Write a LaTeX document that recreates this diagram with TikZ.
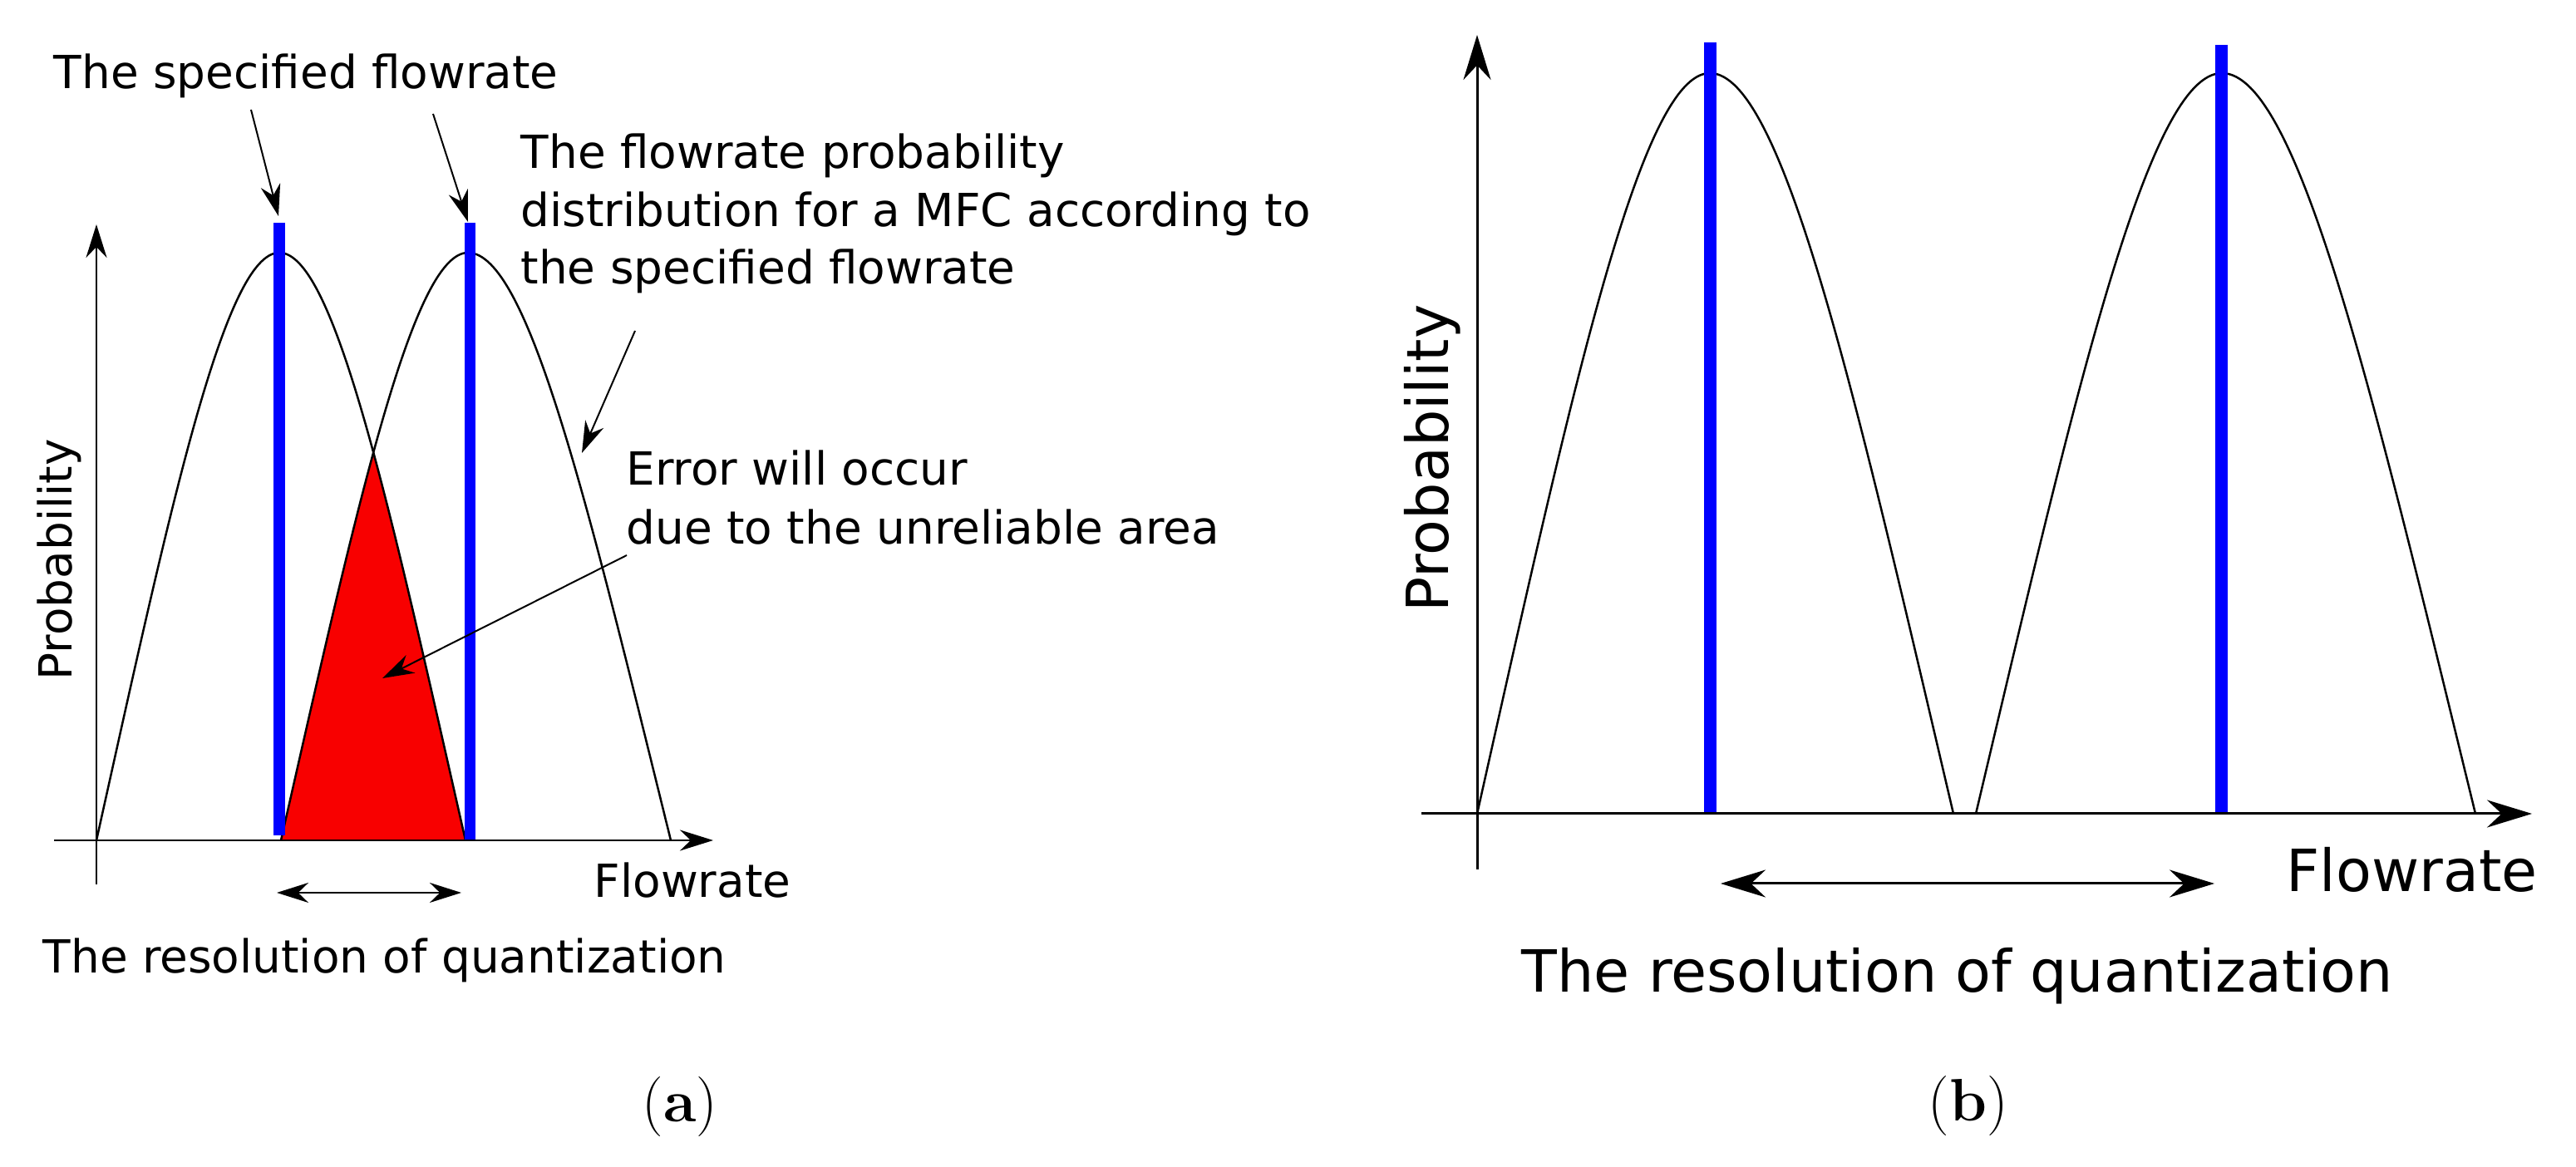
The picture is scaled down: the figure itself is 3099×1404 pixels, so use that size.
\documentclass[tikz,border=0pt]{standalone}
\usepackage{fontspec}
\newfontfamily\dejavu{DejaVu Sans}
\usetikzlibrary{arrows.meta}
\begin{document}
\begin{tikzpicture}[x=0.01cm,y=-0.01cm,
  txa/.style={font=\dejavu\fontsize{15.6}{19}\selectfont, inner sep=0pt, anchor=base west},
  txb/.style={font=\dejavu\fontsize{19.9}{24}\selectfont, inner sep=0pt, anchor=base west},
  capt/.style={font=\fontsize{20.5}{24}\selectfont, inner sep=0pt},
  curve/.style={line width=0.025cm, line join=round},
  bluebara/.style={draw={rgb,255:red,0;green,0;blue,255}, line width=0.13cm},
  bluebarb/.style={draw={rgb,255:red,0;green,0;blue,255}, line width=0.15cm},
  redarea/.style={fill={rgb,255:red,248;green,0;blue,0}},
  axa/.style={line width=0.025cm, -{Stealth[length=0.40cm,width=0.25cm]}},
  axb/.style={line width=0.03cm, -{Stealth[length=0.54cm,width=0.33cm]}},
  dbla/.style={line width=0.025cm, {Stealth[length=0.38cm,width=0.24cm]}-{Stealth[length=0.38cm,width=0.24cm]}},
  dblb/.style={line width=0.03cm, {Stealth[length=0.54cm,width=0.33cm]}-{Stealth[length=0.54cm,width=0.33cm]}},
  note/.style={line width=0.02cm, -{Stealth[length=0.38cm,width=0.24cm]}}
]
\useasboundingbox (0,0) rectangle (3099,1404);
\fill[white] (0,0) rectangle (3099,1404);

% ---------------- panel (a) ----------------
\begin{scope}
  \clip (116,1011) .. controls (204,615) and (270,304) .. (336,304)
        .. controls (403,304) and (470,615) .. (560,1011) -- cycle;
  \fill[redarea] (338,1011) .. controls (428,615) and (496,304) .. (563,304)
        .. controls (636,304) and (709,615) .. (807,1011) -- cycle;
\end{scope}
\draw[curve] (116,1011) .. controls (204,615) and (270,304) .. (336,304)
        .. controls (403,304) and (470,615) .. (560,1011);
\draw[curve] (338,1011) .. controls (428,615) and (496,304) .. (563,304)
        .. controls (636,304) and (709,615) .. (807,1011);
\draw[bluebara] (336,268) -- (336,1005);
\draw[bluebara] (565,268) -- (565,1011);

\coordinate (ayb) at (116,1064);
\coordinate (ayt) at (116,270);
\coordinate (axl) at (65,1011);
\coordinate (axr) at (858,1011);
\draw[axa] (ayb) -- (ayt);
\draw[axa] (axl) -- (axr);

\coordinate (ral) at (333,1074);
\coordinate (rar) at (555,1074);
\draw[dbla] (ral) -- (rar);

\node[txa] (specA) at (64,107) {The specified flowrate};
\coordinate (s1) at (302,132);
\coordinate (t1) at (335,260);
\coordinate (s2) at (521,137);
\coordinate (t2) at (563,267);
\draw[note] (s1) -- (t1);
\draw[note] (s2) -- (t2);

\node[txa] (distA1) at (626,203) {The flowrate probability};
\node[txa] (distA2) at (626,273) {distribution for a MFC according to};
\node[txa] (distA3) at (626,342) {the specified flowrate};
\coordinate (s3) at (764,398);
\coordinate (t3) at (700,545);
\draw[note] (s3) -- (t3);

\node[txa] (errA1) at (753,584) {Error will occur};
\node[txa] (errA2) at (753,655) {due to the unreliable area};
\coordinate (s4) at (754,668);
\coordinate (t4) at (460,816);
\draw[note] (s4) -- (t4);

\node[txa, rotate=90] (probA) at (86,819) {Probability};
\node[txa] (flowA) at (714,1080) {Flowrate};
\node[txa] (resA) at (51,1171) {The resolution of quantization};
\node[capt] (capA) at (818,1332) {(\textbf{a})};

% ---------------- panel (b) ----------------
\draw[curve] (1777,979) .. controls (1889,480) and (1973,88) .. (2057,88)
        .. controls (2145,88) and (2233,480) .. (2350,979);
\draw[curve] (2377,979) .. controls (2495,480) and (2584,88) .. (2673,88)
        .. controls (2765,88) and (2856,480) .. (2978,979);
\draw[bluebarb] (2057,51) -- (2057,979);
\draw[bluebarb] (2672,54) -- (2672,979);

\coordinate (byb) at (1777,1046);
\coordinate (byt) at (1777,42);
\coordinate (bxl) at (1710,979);
\coordinate (bxr) at (3046,979);
\draw[axb] (byb) -- (byt);
\draw[axb] (bxl) -- (bxr);

\coordinate (rbl) at (2070,1063);
\coordinate (rbr) at (2664,1063);
\draw[dblb] (rbl) -- (rbr);

\node[txb, rotate=90] (probB) at (1742,737) {Probability};
\node[txb] (flowB) at (2750,1073) {Flowrate};
\node[txb] (resB) at (1830,1194) {The resolution of quantization};
\node[capt] (capB) at (2368,1331) {(\textbf{b})};
\end{tikzpicture}
\end{document}
